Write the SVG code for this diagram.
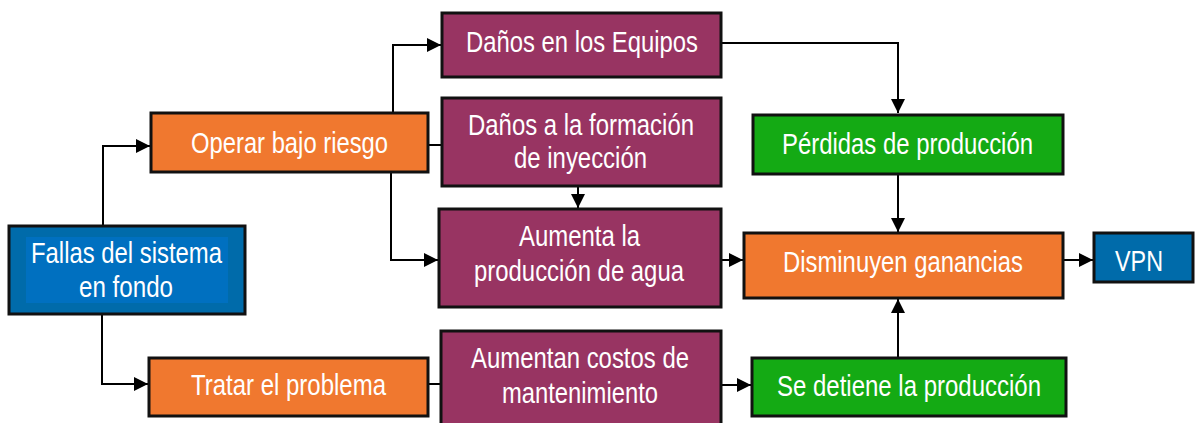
<svg xmlns="http://www.w3.org/2000/svg" width="1195" height="423" viewBox="0 0 1195 423">
<defs>
<marker id="ahb" markerWidth="14" markerHeight="14" refX="14" refY="7" orient="auto" markerUnits="userSpaceOnUse" viewBox="0 0 14 14">
<path d="M0,0 L14,7 L0,14 z" fill="#000"/>
</marker>
</defs>
<style>
.box{stroke:#111;stroke-width:3}
.or{fill:#F0782F}
.pu{fill:#983462}
.gr{fill:#14AA14}
.bl{fill:#006BAA}
.t{font-family:"Liberation Sans",Arial,sans-serif;font-size:29px;fill:#fff;text-anchor:start}
.c{fill:none;stroke:#000;stroke-width:2}
</style>
<rect width="1195" height="423" fill="#fff"/>
<g id="connectors">
<path class="c" d="M103,226 V146 H150" marker-end="url(#ahb)"/>
<path class="c" d="M102,315 V384 H148" marker-end="url(#ahb)"/>
<path class="c" d="M393,113 V45 H441" marker-end="url(#ahb)"/>
<path class="c" d="M428,145 H442"/>
<path class="c" d="M391,172 V260 H438" marker-end="url(#ahb)"/>
<path class="c" d="M428,384 H441"/>
<path class="c" d="M578,186 V208" marker-end="url(#ahb)"/>
<path class="c" d="M721,43 H898 V113" marker-end="url(#ahb)"/>
<path class="c" d="M898,174 V232" marker-end="url(#ahb)"/>
<path class="c" d="M898,358 V299" marker-end="url(#ahb)"/>
<path class="c" d="M721,260 H743" marker-end="url(#ahb)"/>
<path class="c" d="M721,385 H751" marker-end="url(#ahb)"/>
<path class="c" d="M1063,260 H1093" marker-end="url(#ahb)"/>
</g>
<g id="fallas">
<rect class="box bl" x="9" y="226" width="236" height="88"/>
<rect x="26" y="237" width="202" height="66" fill="#0070C0"/>
<text class="t" x="31" y="263" textLength="191" lengthAdjust="spacingAndGlyphs">Fallas del sistema</text>
<text class="t" x="79" y="297" textLength="94" lengthAdjust="spacingAndGlyphs">en fondo</text>
</g>
<g id="operar">
<rect class="box or" x="151" y="113" width="277" height="59"/>
<text class="t" x="191" y="153" textLength="197" lengthAdjust="spacingAndGlyphs">Operar bajo riesgo</text>
</g>
<g id="tratar">
<rect class="box or" x="149" y="358" width="279" height="58"/>
<text class="t" x="191" y="395" textLength="195" lengthAdjust="spacingAndGlyphs">Tratar el problema</text>
</g>
<g id="equipos">
<rect class="box pu" x="442" y="13" width="279" height="64"/>
<text class="t" x="466" y="52" textLength="232" lengthAdjust="spacingAndGlyphs">Daños en los Equipos</text>
</g>
<g id="formacion">
<rect class="box pu" x="442" y="98" width="279" height="88"/>
<text class="t" x="468" y="135" textLength="226" lengthAdjust="spacingAndGlyphs">Daños a la formación</text>
<text class="t" x="514" y="168" textLength="133" lengthAdjust="spacingAndGlyphs">de inyección</text>
</g>
<g id="agua">
<rect class="box pu" x="439" y="209" width="282" height="98"/>
<text class="t" x="519" y="246" textLength="121" lengthAdjust="spacingAndGlyphs">Aumenta la</text>
<text class="t" x="474" y="281" textLength="210" lengthAdjust="spacingAndGlyphs">producción de agua</text>
</g>
<g id="costos">
<rect class="box pu" x="441" y="331" width="280" height="100"/>
<text class="t" x="471" y="368" textLength="218" lengthAdjust="spacingAndGlyphs">Aumentan costos de</text>
<text class="t" x="502" y="403" textLength="156" lengthAdjust="spacingAndGlyphs">mantenimiento</text>
</g>
<g id="perdidas">
<rect class="box gr" x="753" y="115" width="310" height="59"/>
<text class="t" x="782" y="154" textLength="251" lengthAdjust="spacingAndGlyphs">Pérdidas de producción</text>
</g>
<g id="disminuyen">
<rect class="box or" x="744" y="233" width="319" height="65"/>
<text class="t" x="783" y="272" textLength="240" lengthAdjust="spacingAndGlyphs">Disminuyen ganancias</text>
</g>
<g id="detiene">
<rect class="box gr" x="752" y="358" width="314" height="58"/>
<text class="t" x="777" y="396" textLength="264" lengthAdjust="spacingAndGlyphs">Se detiene la producción</text>
</g>
<g id="vpn">
<rect class="box bl" x="1094" y="233" width="99" height="49"/>
<text class="t" x="1115" y="271" textLength="48" lengthAdjust="spacingAndGlyphs">VPN</text>
</g>
</svg>
